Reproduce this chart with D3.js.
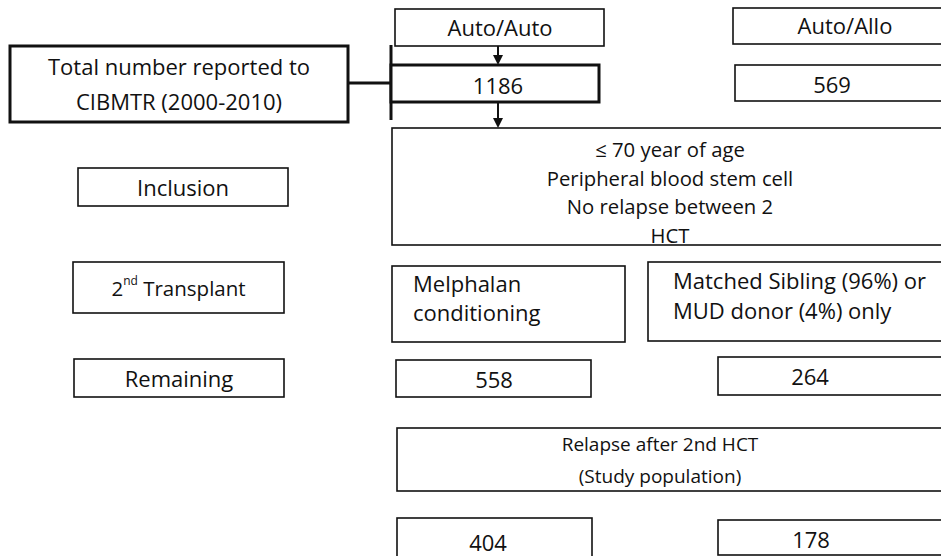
<!DOCTYPE html>
<html>
<head>
<meta charset="utf-8">
<script src="https://cdn.jsdelivr.net/npm/d3@7"></script>
<style>
  html, body { margin: 0; padding: 0; background: #fff; overflow: hidden; }
  svg { display: block; }
  text { font-family: "Open Sans", Lato, sans-serif; fill: #111; }
</style>
</head>
<body>
<svg id="chart" width="941" height="556"></svg>
<script>
// ---- data (text content of the flow chart) ----
const sourceLabel = ["Total number reported to", "CIBMTR (2000-2010)"];
const groups = ["Auto/Auto", "Auto/Allo"];
const reportedCounts = [1186, 569];
const stepLabels = ["Inclusion", "2nd Transplant", "Remaining"];
const inclusionCriteria = ["\u2264 70 year of age", "Peripheral blood stem cell", "No relapse between 2", "HCT"];
const transplantCriteria = [["Melphalan", "conditioning"], ["Matched Sibling (96%) or", "MUD donor (4%) only"]];
const remainingCounts = [558, 264];
const studyLabel = ["Relapse after 2nd HCT", "(Study population)"];
const studyCounts = [404, 178];

// ---- layout (positions only) ----
const W = 941, H = 556;
const svg = d3.select("#chart");
const FS = 22;

function box(x0, y0, x1, y1, sw) {
  svg.append("rect")
    .attr("x", x0).attr("y", y0)
    .attr("width", x1 - x0).attr("height", y1 - y0)
    .attr("fill", "#fff").attr("stroke", "#111")
    .attr("stroke-width", sw || 1.6);
}
function lines(arr, x, yc, gap, anchor, fs) {
  const n = arr.length;
  arr.forEach((s, i) => {
    svg.append("text")
      .attr("x", x)
      .attr("y", yc + (i - (n - 1) / 2) * gap)
      .attr("text-anchor", anchor || "middle")
      .attr("dominant-baseline", "central")
      .attr("font-size", fs || FS)
      .text(s);
  });
}
function arrow(x, y0, y1) {
  svg.append("line").attr("x1", x).attr("x2", x).attr("y1", y0).attr("y2", y1 - 8)
    .attr("stroke", "#111").attr("stroke-width", 2);
  svg.append("path")
    .attr("d", d3.line()([[x - 5, y1 - 10], [x + 5, y1 - 10], [x, y1]]) + "Z")
    .attr("fill", "#111");
}

// Source box and connector
box(10, 46, 348, 122, 3);
lines(sourceLabel, 179, 83, 35);
svg.append("line").attr("x1", 348).attr("x2", 391).attr("y1", 83).attr("y2", 83)
  .attr("stroke", "#111").attr("stroke-width", 3);
svg.append("line").attr("x1", 391).attr("x2", 391).attr("y1", 45).attr("y2", 120)
  .attr("stroke", "#111").attr("stroke-width", 3);

// Group header boxes
box(395, 9, 604, 46);
lines([groups[0]], 500, 27, 0);
box(733, 8, 960, 44);
lines([groups[1]], 845, 25, 0);

// Reported counts
box(391, 65, 599, 102, 3);
lines([String(reportedCounts[0])], 498, 85, 0);
box(735, 65, 960, 101);
lines([String(reportedCounts[1])], 832, 84, 0);

arrow(498, 46, 65);
arrow(498, 102, 128);

// Inclusion
box(78, 168, 288, 206);
lines([stepLabels[0]], 183, 187, 0);
box(392, 128, 960, 245);
lines(inclusionCriteria, 670, 192, 28.5, "middle", 20.3);

// 2nd transplant
box(73, 262, 284, 313);
const t2 = svg.append("text").attr("x", 178.5).attr("y", 288)
  .attr("text-anchor", "middle").attr("dominant-baseline", "central").attr("font-size", 20.5);
const m = stepLabels[1].match(/^(\d+)(nd)(.*)$/);
t2.append("tspan").text(m[1]);
t2.append("tspan").attr("font-size", 12).attr("dy", -8).text(m[2]);
t2.append("tspan").attr("dy", 8).text(m[3]);

box(392, 266, 625, 342);
lines(transplantCriteria[0], 413, 297, 29, "start");
box(648, 262, 960, 341);
lines(transplantCriteria[1], 673, 295, 30, "start");

// Remaining
box(74, 359, 284, 397);
lines([stepLabels[2]], 179, 378, 0);
box(396, 360, 591, 397);
lines([String(remainingCounts[0])], 494, 379, 0);
box(718, 357, 960, 395);
lines([String(remainingCounts[1])], 810, 376, 0);

// Study population
box(397, 428, 960, 491);
lines(studyLabel, 660, 460, 32, "middle", 19);

box(397, 518, 592, 570);
lines([String(studyCounts[0])], 488, 542, 0);
box(718, 520, 960, 555);
lines([String(studyCounts[1])], 811, 539, 0);
</script>
</body>
</html>
